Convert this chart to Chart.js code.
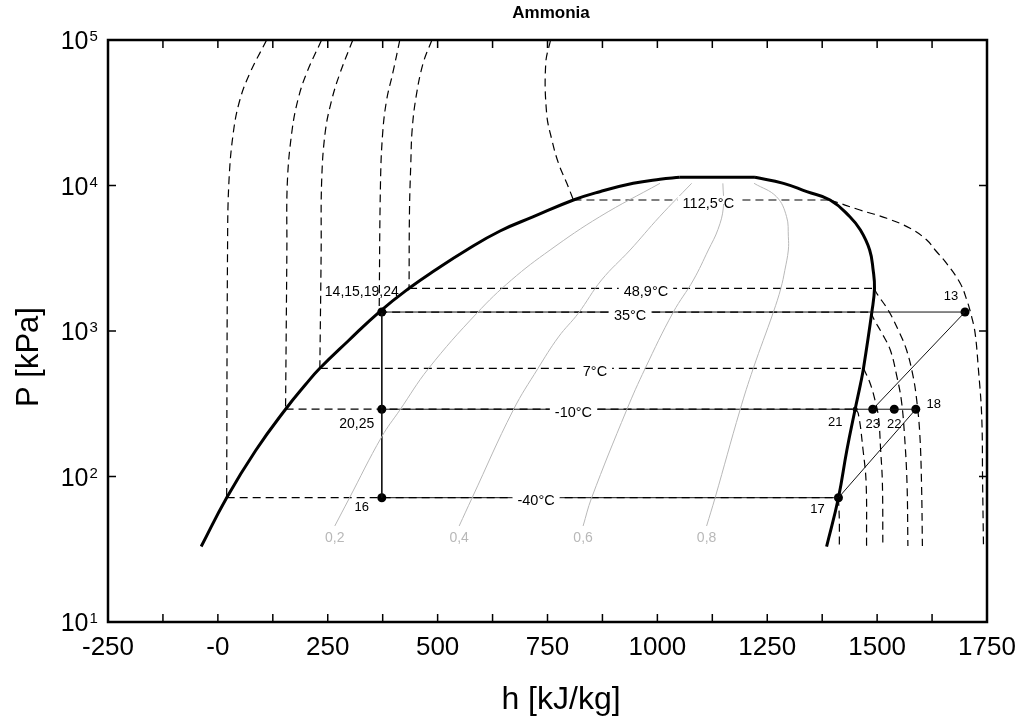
<!DOCTYPE html>
<html>
<head>
<meta charset="utf-8">
<script src="https://cdn.jsdelivr.net/npm/chart.js@4.4.1/dist/chart.umd.min.js"></script>
<style>
  html, body { margin: 0; padding: 0; background: #fff; }
  #wrap { width: 1022px; height: 717px; position: relative; }
</style>
</head>
<body>
<div id="wrap"><canvas id="chart"></canvas></div>
<script>
// ---- data (h in kJ/kg, P in kPa) ----
const xTickValues = [-250, 0, 250, 500, 750, 1000, 1250, 1500, 1750];
const xTickLabels = ['-250', '-0', '250', '500', '750', '1000', '1250', '1500', '1750'];
const yTickValues = [10, 100, 1000, 10000, 100000];
const yTickExps = ['1', '2', '3', '4', '5'];

// saturation dome: liquid side, flat top, vapour side
const domeLiqH = [-38, 20, 86, 154, 200, 232, 297, 367, 435, 494, 566, 642, 718, 809, 869, 945, 1006, 1051];
const domeLiqP = [33, 71.5, 151, 290, 430, 554, 857, 1350, 1966, 2614, 3606, 4868, 6104, 7949, 9066, 10350, 11030, 11380];
const domeTopH = [1051, 1222];
const domeTopP = [11380, 11380];
const domeVapH = [1222, 1287, 1340, 1393, 1438, 1462, 1483, 1491, 1494, 1488, 1469, 1462, 1450, 1431, 1412, 1385];
const domeVapP = [11380, 10350, 9066, 7949, 6104, 4943, 3606, 2614, 1966, 1350, 554, 430, 290, 151, 71.5, 33];

// vapour quality lines
const qualityLabels = ['0,2', '0,4', '0,6', '0,8'];
const q02H = [266, 297, 373, 414, 479, 589, 668, 756, 869, 1006];
const q02P = [45.7, 69, 188, 286, 551, 1323, 2242, 3604, 6104, 10350];
const q04H = [549, 578, 672, 728, 775, 820, 873, 938, 1005, 1078];
const q04P = [45.7, 70.8, 286, 551, 910, 1323, 2242, 3604, 6104, 10350];
const q06H = [831, 850, 930, 972, 1036, 1082, 1116, 1138, 1150, 1149];
const q06P = [45.7, 70.8, 286, 551, 1344, 2242, 3604, 5000, 7000, 10350];
const q08H = [1112, 1131, 1188, 1218, 1264, 1281, 1290, 1298, 1298, 1294, 1271, 1220];
const q08P = [45.7, 70.8, 286, 551, 1350, 1966, 2614, 3604, 4446, 6104, 8375, 10350];

// isotherms: liquid side (top -> saturated liquid)
const tm40LiqH = [111, 73, 50, 35, 25, 22, 20];
const tm40LiqP = [100000, 59330, 38690, 22950, 10400, 3604, 71.5];
const tm10LiqH = [236, 202, 182, 168, 158, 157, 154];
const tm10LiqP = [100000, 59330, 38690, 22950, 10400, 3604, 290];
const t7LiqH = [307, 278, 259, 244, 236, 235, 232];
const t7LiqP = [100000, 59330, 38690, 22950, 10400, 3604, 554];
const t35LiqH = [414, 398, 384, 375, 370, 367];
const t35LiqP = [100000, 59330, 38690, 22950, 10400, 1350];
const t49LiqH = [487, 467, 451, 442, 439, 436, 435];
const t49LiqP = [100000, 69170, 40770, 24070, 14210, 6785, 1966];
const t112LiqH = [757, 746, 748, 760, 775, 794, 809];
const t112LiqP = [100000, 69170, 31350, 20550, 14210, 10350, 7949];

// isotherms: vapour side (saturated vapour -> bottom)
const tm40VapH = [1412, 1414, 1414];
const tm40VapP = [71.5, 50, 33.3];
const tm10VapH = [1450, 1457, 1468, 1475, 1476];
const tm10VapP = [290, 272, 152, 89.8, 33.3];
const t7VapH = [1469, 1484, 1495, 1503, 1508, 1512, 1513];
const t7VapP = [554, 437, 336, 258, 152, 89.8, 33.3];
const t35VapH = [1488, 1490, 1511, 1530, 1545, 1555, 1562, 1568, 1570];
const t35VapP = [1350, 1254, 964, 740, 485, 336, 198, 89.8, 33.3];
const t49VapH = [1494, 1499, 1525, 1548, 1567, 1582, 1590, 1597, 1601, 1603];
const t49VapP = [1966, 1816, 1394, 1016, 740, 485, 336, 198, 89.8, 33.3];
const t112VapH = [1393, 1461, 1522, 1575, 1613, 1632, 1658, 1689, 1704, 1715, 1723, 1730, 1738, 1740, 1742];
const t112VapP = [7949, 6785, 5951, 5080, 4222, 3604, 2920, 2128, 1634, 1254, 964, 568, 258, 89.8, 33.3];

// saturation temperatures (horizontal part inside the dome)
const satLabels = ['-40°C', '-10°C', '7°C', '35°C', '48,9°C', '112,5°C'];
const satLiqH = [20, 154, 232, 367, 435, 809];
const satVapH = [1412, 1450, 1469, 1488, 1494, 1393];
const satP = [71.5, 290, 554, 1350, 1966, 7949];

// cycle states
const stateNames = ['13', '14,15,19,24', '16', '17', '18', '20,25', '21', '22', '23'];
const stateH = [1700, 373, 373, 1412, 1588, 373, 1450, 1539, 1490];
const stateP = [1350, 1350, 71.5, 71.5, 290, 290, 290, 290, 290];
const cycleLinks = [['14,15,19,24', '13'], ['14,15,19,24', '16'], ['20,25', '18'], ['16', '17'], ['17', '18'], ['23', '13']];

// ---- chart ----
const FONT = '"Liberation Sans", Arial, Helvetica, sans-serif';
const pts = (h, p) => h.map((v, i) => ({ x: v, y: p[i] }));
const state = name => { const i = stateNames.indexOf(name); return { x: stateH[i], y: stateP[i] }; };

function curve(h, p, opts) {
    return Object.assign({
        data: pts(h, p), borderColor: '#000', borderWidth: 1.2, pointRadius: 0,
        fill: false, tension: 0.4, borderDash: [8, 5]
    }, opts);
}

const datasets = [];
[[q02H, q02P], [q04H, q04P], [q06H, q06P], [q08H, q08P]].forEach(([h, p]) => {
    datasets.push(curve(h, p, { borderColor: '#b8b8b8', borderWidth: 1, borderDash: [] }));
});
[[tm40LiqH, tm40LiqP], [tm10LiqH, tm10LiqP], [t7LiqH, t7LiqP], [t35LiqH, t35LiqP], [t49LiqH, t49LiqP], [t112LiqH, t112LiqP],
 [tm40VapH, tm40VapP], [tm10VapH, tm10VapP], [t7VapH, t7VapP], [t35VapH, t35VapP], [t49VapH, t49VapP], [t112VapH, t112VapP]]
    .forEach(([h, p]) => datasets.push(curve(h, p, {})));
satP.forEach((p, i) => {
    datasets.push(curve([satLiqH[i], satVapH[i]], [p, p], { tension: 0 }));
});
cycleLinks.forEach(([a, b]) => {
    datasets.push({ data: [state(a), state(b)], borderColor: '#111', borderWidth: 1, pointRadius: 0, tension: 0, fill: false });
});
datasets.push(curve(domeLiqH, domeLiqP, { borderWidth: 3, borderDash: [], tension: 0.45 }));
datasets.push(curve(domeTopH, domeTopP, { borderWidth: 3, borderDash: [], tension: 0 }));
datasets.push(curve(domeVapH, domeVapP, { borderWidth: 3, borderDash: [], tension: 0.45 }));
datasets.push({
    data: pts(stateH, stateP), showLine: false,
    pointRadius: stateNames.map(n => n === '21' ? 2.5 : 4.5),
    pointBackgroundColor: '#000', pointBorderWidth: 0
});

const decor = {
    id: 'decor',
    afterDraw(chart) {
        const { ctx, chartArea: a, scales: { x, y } } = chart;
        ctx.save();

        // saturation temperature labels
        const satLabelAt = [724, 809, 858, 938, 974, 1116];
        ctx.font = '14.5px ' + FONT;
        ctx.textAlign = 'center';
        ctx.textBaseline = 'middle';
        satLabels.forEach((t, i) => {
            const px = x.getPixelForValue(satLabelAt[i]);
            const py = y.getPixelForValue(satP[i]);
            const w = ctx.measureText(t).width;
            ctx.fillStyle = '#fff';
            ctx.fillRect(px - w / 2 - 5, py - 4, w + 10, 8);
            ctx.fillStyle = '#000';
            ctx.fillText(t, px, py + 3.5);
        });

        // quality labels
        ctx.font = '14px ' + FONT;
        ctx.fillStyle = '#b8b8b8';
        [q02H, q04H, q06H, q08H].forEach((h, i) => {
            const p = [q02P, q04P, q06P, q08P][i];
            ctx.fillText(qualityLabels[i], x.getPixelForValue(h[0]), y.getPixelForValue(p[0]) + 12);
        });

        // state labels
        const off = {
            '13': [-14, -16], '14,15,19,24': [-20, -20], '16': [-20, 10], '17': [-21, 12], '18': [18, -5],
            '20,25': [-25, 15], '21': [-20, 13], '22': [0, 15], '23': [0, 15]
        };
        ctx.fillStyle = '#000';
        stateNames.forEach((n, i) => {
            ctx.font = (n.includes(',') ? '14px ' : '13px ') + FONT;
            ctx.fillText(n, x.getPixelForValue(stateH[i]) + off[n][0], y.getPixelForValue(stateP[i]) + off[n][1]);
        });

        // frame
        ctx.strokeStyle = '#000';
        ctx.lineWidth = 2.5;
        ctx.strokeRect(a.left, a.top, a.right - a.left, a.bottom - a.top);

        // inward ticks
        ctx.lineWidth = 1.5;
        ctx.beginPath();
        for (let v = -250 + 125; v < 1750; v += 125) {
            const px = x.getPixelForValue(v);
            ctx.moveTo(px, a.bottom); ctx.lineTo(px, a.bottom - 8);
            ctx.moveTo(px, a.top); ctx.lineTo(px, a.top + 8);
        }
        yTickValues.forEach(v => {
            const py = y.getPixelForValue(v);
            ctx.moveTo(a.left, py); ctx.lineTo(a.left + 8, py);
            ctx.moveTo(a.right, py); ctx.lineTo(a.right - 8, py);
        });
        ctx.stroke();

        // tick labels
        ctx.fillStyle = '#000';
        ctx.font = '26px ' + FONT;
        ctx.textAlign = 'center';
        ctx.textBaseline = 'alphabetic';
        xTickValues.forEach((v, i) => ctx.fillText(xTickLabels[i], x.getPixelForValue(v), 655));
        yTickValues.forEach((v, i) => {
            const py = y.getPixelForValue(v);
            ctx.font = '25px ' + FONT;
            ctx.textAlign = 'right';
            ctx.fillText('10', 88.5, py + 9);
            ctx.font = '15px ' + FONT;
            ctx.textAlign = 'left';
            ctx.fillText(yTickExps[i], 89.5, py + 1);
        });

        // titles
        ctx.textAlign = 'center';
        ctx.font = 'bold 17px ' + FONT;
        ctx.textBaseline = 'middle';
        ctx.fillText('Ammonia', 551, 13);
        ctx.font = '32px ' + FONT;
        ctx.textBaseline = 'alphabetic';
        ctx.fillText('h [kJ/kg]', 561, 709);
        ctx.translate(29, 357);
        ctx.rotate(-Math.PI / 2);
        ctx.font = '31px ' + FONT;
        ctx.textBaseline = 'middle';
        ctx.fillText('P [kPa]', 0, 0);
        ctx.restore();
    }
};

new Chart(document.getElementById('chart'), {
    type: 'line',
    data: { datasets },
    options: {
        animation: false,
        responsive: true,
        maintainAspectRatio: false,
        devicePixelRatio: 1,
        events: [],
        layout: { padding: { left: 108, top: 40, right: 35, bottom: 95 } },
        plugins: { legend: { display: false }, tooltip: { enabled: false }, title: { display: false } },
        scales: {
            x: { type: 'linear', min: -250, max: 1750, display: false },
            y: { type: 'logarithmic', min: 10, max: 100000, display: false }
        }
    },
    plugins: [decor]
});
</script>
</body>
</html>
